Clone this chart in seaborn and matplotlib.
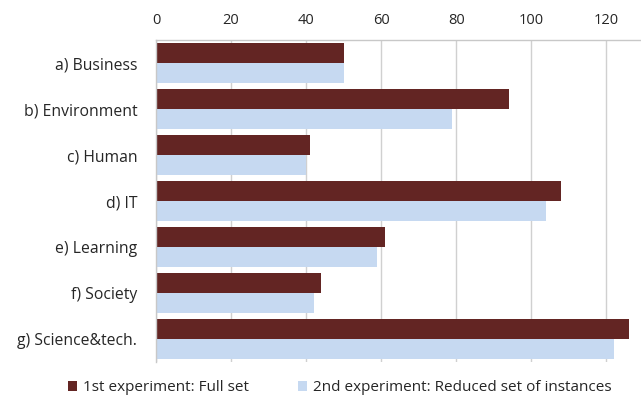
import pandas as pd
import matplotlib.pyplot as plt
import seaborn as sns

categories = ["a) Business", "b) Environment", "c) Human", "d) IT",
              "e) Learning", "f) Society", "g) Science&tech."]
full_set = [50, 94, 41, 108, 61, 44, 126]
reduced_set = [50, 79, 40, 104, 59, 42, 122]
series_names = ["1st experiment: Full set", "2nd experiment: Reduced set of instances"]
colors = ["#632523", "#C6D9F1"]

df = pd.DataFrame({
    "category": categories * 2,
    "value": full_set + reduced_set,
    "series": [series_names[0]] * len(categories) + [series_names[1]] * len(categories),
})

sns.set_style("white")
plt.rcParams["font.family"] = ["Open Sans", "DejaVu Sans"]

fig = plt.figure(figsize=(6.41, 4.0), dpi=100)
ax = fig.add_axes([0.2434, 0.095, 0.755, 0.805])

sns.barplot(data=df, x="value", y="category", hue="series", order=categories,
            hue_order=series_names, palette=colors, width=0.87, gap=0,
            orient="h", ax=ax, saturation=1, linewidth=0)

ax.set_xlim(0, 129)
ax.set_xticks(range(0, 121, 20))
ax.xaxis.tick_top()
ax.tick_params(axis="x", length=0, pad=9, labelsize=10.5)
ax.tick_params(axis="y", length=0, pad=13.5, labelsize=11.3)
ax.set_xlabel("")
ax.set_ylabel("")
ax.grid(axis="x", color="#D0D0D0", linewidth=1)
ax.set_axisbelow(True)
for side in ["right", "bottom"]:
    ax.spines[side].set_visible(False)
for side in ["left", "top"]:
    ax.spines[side].set_color("#C8C8C8")
    ax.spines[side].set_linewidth(1)

sns.move_legend(ax, "lower center", bbox_to_anchor=(0.53, -0.022), bbox_transform=fig.transFigure,
                ncol=2, frameon=False, fontsize=11, title=None,
                handlelength=0.6, handleheight=0.6, handletextpad=0.4, columnspacing=3.2)

fig.savefig("out.png", dpi=100)
